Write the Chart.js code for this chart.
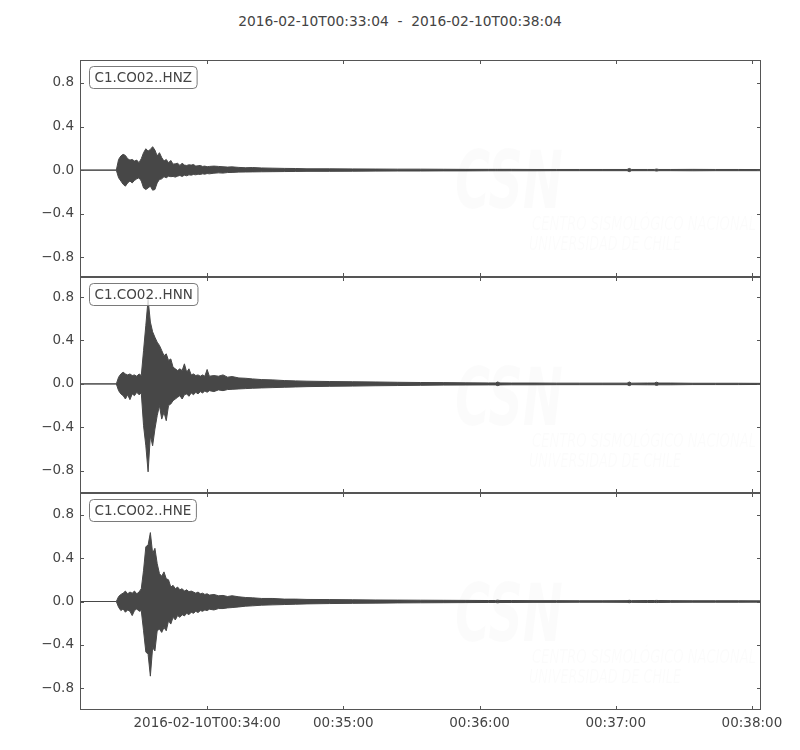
<!DOCTYPE html>
<html>
<head>
<meta charset="utf-8">
<script src="https://cdn.jsdelivr.net/npm/chart.js@4.4.0/dist/chart.umd.min.js"></script>
<style>
body { margin:0; background:#fff; width:800px; height:750px; position:relative; overflow:hidden; font-family:"DejaVu Sans", sans-serif; }
#title { position:absolute; top:13px; left:0; width:800px; text-align:center; font-size:13.8px; line-height:16px; color:#444; white-space:pre; }
.panel { position:absolute; left:0; width:800px; }
</style>
</head>
<body>
<div id="title">2016-02-10T00:33:04  -  2016-02-10T00:38:04</div>
<div class="panel" style="top:59px;height:219px"><canvas id="hnz"></canvas></div>
<div class="panel" style="top:276px;height:218px"><canvas id="hnn"></canvas></div>
<div class="panel" style="top:492px;height:258px"><canvas id="hne"></canvas></div>
<script>
// seconds after 2016-02-10T00:33:04
const times = [0,
  16,17,18,19,20,21,22,23,24,25,26,27,28,29,30,31,32,33,34,35,36,37,38,39,40,41,42,43,44,45,46,47,48,49,50,51,52,53,54,55,56,57,
  59,61,63,65,67,70,73,76,80,85,90,95,100,
  110,120,130,140,150,160,170,180,183,184,185,190,200,210,220,230,241,242,243,250,253,254,255,260,270,280,290,300];

// envelope (max / min) of each trace
const hnzUp = [0,
  0,0.098,0.13,0.145,0.135,0.105,0.092,0.098,0.083,0.092,0.068,0.105,0.16,0.196,0.175,0.19,0.215,0.184,0.13,0.16,0.115,0.083,0.098,0.068,0.089,0.055,0.058,0.064,0.043,0.064,0.046,0.043,0.049,0.046,0.052,0.037,0.040,0.043,0.034,0.037,0.031,0.034,
  0.037,0.034,0.031,0.028,0.030,0.025,0.022,0.024,0.020,0.018,0.016,0.015,0.012,
  0.012,0.011,0.010,0.009,0.009,0.008,0.007,0.007,0.007,0.007,0.007,0.007,0.006,0.006,0.006,0.006,0.006,0.016,0.006,0.006,0.006,0.010,0.006,0.006,0.007,0.006,0.006,0.005];
const hnzLo = [0,
  0,-0.07,-0.10,-0.13,-0.147,-0.117,-0.10,-0.117,-0.095,-0.08,-0.07,-0.10,-0.163,-0.178,-0.163,-0.147,-0.184,-0.178,-0.117,-0.086,-0.08,-0.06,-0.07,-0.055,-0.06,-0.058,-0.064,-0.055,-0.049,-0.058,-0.046,-0.052,-0.043,-0.046,-0.040,-0.043,-0.037,-0.040,-0.034,-0.037,-0.031,-0.034,
  -0.028,-0.025,-0.027,-0.022,-0.021,-0.018,-0.017,-0.016,-0.015,-0.014,-0.013,-0.012,-0.011,
  -0.011,-0.010,-0.009,-0.008,-0.008,-0.007,-0.007,-0.006,-0.006,-0.006,-0.006,-0.006,-0.006,-0.005,-0.005,-0.005,-0.005,-0.014,-0.005,-0.005,-0.005,-0.009,-0.005,-0.005,-0.006,-0.005,-0.005,-0.005];

const hnnUp = [0,
  0,0.062,0.092,0.108,0.092,0.083,0.092,0.077,0.083,0.071,0.092,0.077,0.308,0.54,0.78,0.57,0.48,0.43,0.385,0.355,0.308,0.26,0.277,0.216,0.23,0.154,0.139,0.123,0.139,0.123,0.185,0.108,0.139,0.083,0.092,0.077,0.083,0.071,0.083,0.071,0.133,0.071,
  0.077,0.071,0.083,0.062,0.068,0.055,0.052,0.046,0.040,0.037,0.031,0.028,0.025,
  0.022,0.020,0.018,0.015,0.013,0.012,0.010,0.009,0.009,0.018,0.009,0.008,0.008,0.007,0.007,0.007,0.007,0.018,0.007,0.008,0.008,0.016,0.008,0.008,0.006,0.006,0.006,0.005];
const hnnLo = [0,
  0,-0.062,-0.092,-0.108,-0.139,-0.10,-0.145,-0.092,-0.108,-0.077,-0.10,-0.083,-0.385,-0.57,-0.81,-0.478,-0.57,-0.416,-0.293,-0.20,-0.324,-0.262,-0.339,-0.20,-0.185,-0.154,-0.139,-0.123,-0.108,-0.139,-0.10,-0.092,-0.114,-0.083,-0.10,-0.077,-0.092,-0.071,-0.083,-0.065,-0.077,-0.062,
  -0.071,-0.055,-0.062,-0.052,-0.050,-0.046,-0.043,-0.040,-0.037,-0.034,-0.031,-0.028,-0.025,
  -0.022,-0.020,-0.017,-0.015,-0.013,-0.011,-0.010,-0.009,-0.009,-0.016,-0.009,-0.008,-0.008,-0.007,-0.007,-0.007,-0.007,-0.016,-0.007,-0.008,-0.008,-0.014,-0.008,-0.008,-0.006,-0.006,-0.006,-0.005];

const hneUp = [0,
  0,0.046,0.065,0.077,0.096,0.071,0.087,0.077,0.096,0.071,0.087,0.118,0.288,0.505,0.52,0.635,0.443,0.49,0.35,0.257,0.233,0.273,0.21,0.20,0.133,0.149,0.118,0.133,0.108,0.118,0.096,0.108,0.09,0.096,0.087,0.077,0.087,0.071,0.077,0.065,0.071,0.059,
  0.065,0.053,0.056,0.046,0.053,0.043,0.037,0.034,0.028,0.028,0.022,0.022,0.019,
  0.018,0.016,0.014,0.013,0.012,0.011,0.010,0.009,0.009,0.012,0.009,0.009,0.008,0.008,0.007,0.007,0.008,0.011,0.008,0.009,0.009,0.010,0.009,0.008,0.007,0.007,0.007,0.006];
const hneLo = [0,
  0,-0.053,-0.084,-0.068,-0.099,-0.078,-0.09,-0.13,-0.084,-0.068,-0.09,-0.084,-0.27,-0.465,-0.487,-0.688,-0.425,-0.456,-0.27,-0.254,-0.285,-0.24,-0.27,-0.177,-0.208,-0.146,-0.17,-0.13,-0.146,-0.121,-0.133,-0.109,-0.121,-0.099,-0.109,-0.09,-0.102,-0.084,-0.09,-0.078,-0.084,-0.071,
  -0.078,-0.065,-0.065,-0.059,-0.056,-0.05,-0.043,-0.04,-0.034,-0.031,-0.028,-0.025,-0.022,
  -0.019,-0.017,-0.015,-0.013,-0.012,-0.011,-0.010,-0.009,-0.009,-0.012,-0.009,-0.009,-0.008,-0.008,-0.007,-0.007,-0.008,-0.011,-0.008,-0.009,-0.009,-0.010,-0.009,-0.008,-0.007,-0.007,-0.007,-0.006];

const xTicks = [56, 116, 176, 236, 296];
const xLabels = ['2016-02-10T00:34:00', '00:35:00', '00:36:00', '00:37:00', '00:38:00'];
const yTicks = [-0.8, -0.4, 0, 0.4, 0.8];
// y limits of each panel [min, max]
const hnzLim = [-0.98, 1.01];
const hnnLim = [-1.005, 0.985];
const hneLim = [-1, 1];

const wave = '#474747';
const tickFont = { family: 'DejaVu Sans', size: 13.5 };

function fmt(v) {
  return (v < 0 ? '\u2212' : '') + Math.abs(v).toFixed(1);
}

// watermark, station label box, inward ticks and frame
const decor = {
  id: 'decor',
  beforeDatasetsDraw(chart) {
    const { ctx, chartArea: a } = chart;
    ctx.save();
    ctx.fillStyle = 'rgba(0,0,0,0.016)';
    ctx.textBaseline = 'alphabetic';
    ctx.font = 'italic bold 80px "DejaVu Sans Condensed", "DejaVu Sans"';
    ctx.fillText('CSN', a.left + 375, a.top + 148, 108);
    ctx.font = 'italic 20px "DejaVu Sans Condensed", "DejaVu Sans"';
    ctx.fillText('CENTRO SISMOLÓGICO NACIONAL', a.left + 452, a.top + 170, 224);
    ctx.fillText('UNIVERSIDAD DE CHILE', a.left + 449, a.top + 190, 152);
    ctx.restore();
  },
  afterDatasetsDraw(chart) {
    const { ctx, chartArea: a, scales } = chart;
    const name = chart.options.plugins.decor.text;
    ctx.save();
    // label box
    ctx.font = '13.5px "DejaVu Sans"';
    const w = ctx.measureText(name).width + 10;
    const bx = a.left + 9.5, by = a.top + 6.5, bh = 22;
    ctx.beginPath();
    ctx.roundRect(bx, by, w, bh, 4);
    ctx.fillStyle = 'rgba(255,255,255,0.8)';
    ctx.fill();
    ctx.strokeStyle = '#7a7a7a';
    ctx.lineWidth = 1;
    ctx.stroke();
    ctx.fillStyle = '#444';
    ctx.textBaseline = 'middle';
    ctx.fillText(name, bx + 5, by + bh / 2 + 1);
    // ticks pointing inward
    ctx.strokeStyle = '#555';
    ctx.beginPath();
    yTicks.forEach(v => {
      const y = Math.round(scales.y.getPixelForValue(v)) + 0.5;
      ctx.moveTo(a.left, y); ctx.lineTo(a.left + 4, y);
      ctx.moveTo(a.right, y); ctx.lineTo(a.right - 4, y);
    });
    xTicks.forEach(v => {
      const x = Math.round(scales.x.getPixelForValue(v)) + 0.5;
      ctx.moveTo(x, a.top); ctx.lineTo(x, a.top + 4);
      ctx.moveTo(x, a.bottom); ctx.lineTo(x, a.bottom - 4);
    });
    ctx.stroke();
    ctx.strokeRect(Math.round(a.left) + 0.5, Math.round(a.top) + 0.5,
      Math.round(a.right - a.left) - 1, Math.round(a.bottom - a.top) - 1);
    ctx.restore();
  }
};

function panel(id, name, up, lo, lim, showX) {
  return new Chart(document.getElementById(id), {
    type: 'line',
    data: {
      datasets: [
        { data: times.map((t, i) => ({ x: t, y: lo[i] })), borderColor: wave, borderWidth: 1, pointRadius: 0, tension: 0, fill: false },
        { data: times.map((t, i) => ({ x: t, y: up[i] })), borderColor: wave, borderWidth: 1, pointRadius: 0, tension: 0, fill: '-1', backgroundColor: wave }
      ]
    },
    options: {
      responsive: true,
      maintainAspectRatio: false,
      animation: false,
      events: [],
      layout: { padding: { top: 1, bottom: showX ? 0 : 1, left: 0, right: 39 } },
      plugins: {
        legend: { display: false },
        tooltip: { enabled: false },
        decor: { text: name }
      },
      scales: {
        x: {
          type: 'linear', min: 0, max: 300, display: showX,
          afterBuildTicks: s => { s.ticks = xTicks.map(v => ({ value: v })); },
          afterFit: s => { s.height = showX ? 40 : 0; s.paddingLeft = 0; s.paddingRight = 0; },
          grid: { display: false, drawTicks: false },
          border: { display: false },
          ticks: { color: '#444', font: tickFont, padding: 5, maxRotation: 0, autoSkip: false,
            callback: (v, i) => xLabels[i] }
        },
        y: {
          min: lim[0], max: lim[1],
          afterBuildTicks: s => { s.ticks = yTicks.map(v => ({ value: v })); },
          afterFit: s => { s.width = 80; s.paddingTop = 0; s.paddingBottom = 0; },
          grid: { display: false, drawTicks: false },
          border: { display: false },
          ticks: { color: '#444', font: tickFont, padding: 6, callback: v => fmt(v) }
        }
      }
    },
    plugins: [decor]
  });
}

panel('hnz', 'C1.CO02..HNZ', hnzUp, hnzLo, hnzLim, false);
panel('hnn', 'C1.CO02..HNN', hnnUp, hnnLo, hnnLim, false);
panel('hne', 'C1.CO02..HNE', hneUp, hneLo, hneLim, true);
</script>
</body>
</html>
